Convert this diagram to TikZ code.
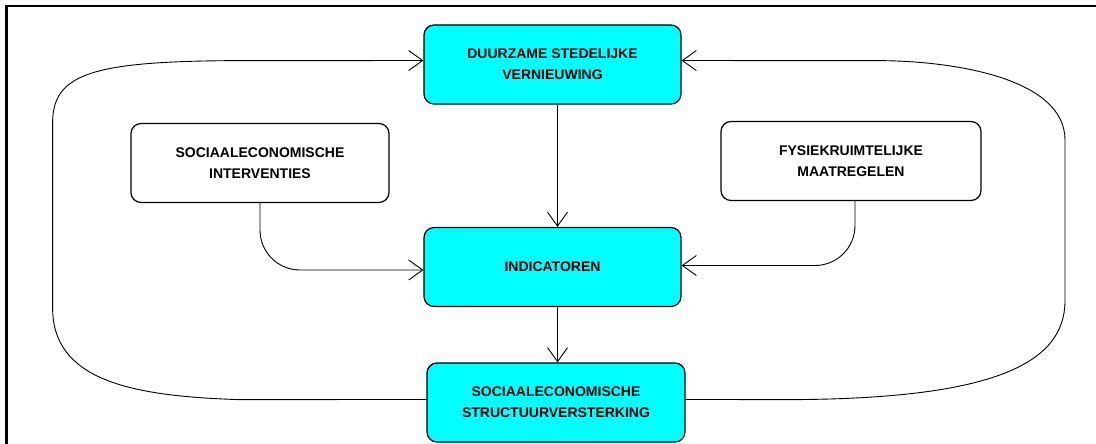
\documentclass[tikz,border=0pt]{standalone}
\usepackage{fontspec}
\setmainfont{Liberation Sans}
\usetikzlibrary{arrows.meta,positioning}
\definecolor{aqua}{RGB}{0,255,255}

\begin{document}
\begin{tikzpicture}[x=1pt,y=-1pt,
	blok/.style={draw, line width=1.2pt, rounded corners=10pt, minimum width=257pt,
		minimum height=79pt, inner sep=0pt, align=center,
		font=\bfseries\fontsize{14}{21}\selectfont},
	kern/.style={blok, fill=aqua},
	pijl/.style={-{Straight Barb[length=14pt,width=20pt]}, line width=0.9pt}]

		% Frame
		\useasboundingbox (0,0) rectangle (1096,444);
		\draw[line width=2.5pt] (6.3,444) -- (6.3,6) -- (1096,6);

		% Main chain
		\node[kern] (duurzaam) at (552.5,64.5) {DUURZAME STEDELIJKE\\VERNIEUWING};
		\node[kern] (indicatoren) at (552.5,267) {INDICATOREN};
		\node[kern, minimum width=258pt] (structuur) at (556,402.5) {SOCIAALECONOMISCHE\\STRUCTUURVERSTERKING};

		% Side inputs
		\node[blok, minimum width=258pt] (interventies) at (260,163) {SOCIAALECONOMISCHE\\INTERVENTIES};
		\node[blok, minimum width=260pt] (fysiek) at (851,161) {FYSIEKRUIMTELIJKE\\MAATREGELEN};

		% Arrows down the chain
		\draw[pijl] ([xshift=5pt]duurzaam.south) -- ([xshift=5pt]duurzaam.south |- indicatoren.north);
		\draw[pijl] ([xshift=5pt]indicatoren.south) -- ([xshift=5pt]indicatoren.south |- structuur.north);

		% Inputs into the indicators
		\draw[pijl, rounded corners=40pt] (interventies.south) |- ([yshift=-3pt]indicatoren.west);
		\draw[pijl, rounded corners=40pt] ([xshift=4pt]fysiek.south) |- ([yshift=1.5pt]indicatoren.east);

		% Feedback loops
		\draw[pijl] ([yshift=3pt]structuur.west) -- (238,399.6)
			.. controls (130,396) and (52.6,380) .. (52.6,307.7) -- (52.6,123)
			.. controls (52.6,75) and (90,62) .. (224,60.7) -- ([yshift=4pt]duurzaam.west);
		\draw[pijl] ([yshift=3pt]structuur.east) -- (797,399.6)
			.. controls (990,398) and (1065,365) .. (1065,300.7) -- (1065,140)
			.. controls (1065,80) and (960,62) .. (886,60.7) -- ([yshift=4pt]duurzaam.east);

	\end{tikzpicture}
\end{document}
